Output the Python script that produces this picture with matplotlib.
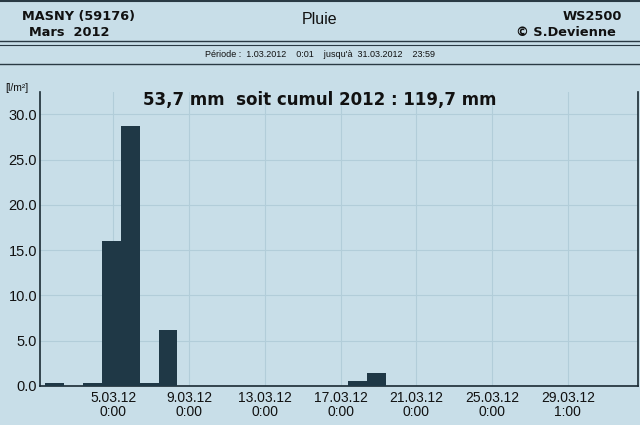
import matplotlib.pyplot as plt
import numpy as np

# pluie journaliere, mars 2012 (jour 1..31) en l/m2
jours = np.arange(1, 32)
pluie = [0.3, 0.0, 0.3, 16.0, 28.7, 0.3, 6.2, 0.0, 0.0, 0.0,
         0.0, 0.0, 0.0, 0.0, 0.0, 0.0, 0.5, 1.4, 0.0, 0.0,
         0.0, 0.0, 0.0, 0.0, 0.0, 0.0, 0.0, 0.0, 0.0, 0.0, 0.0]
tick_jours = [5, 9, 13, 17, 21, 25, 29]
tick_labels = ['5.03.12\n0:00', '9.03.12\n0:00', '13.03.12\n0:00', '17.03.12\n0:00',
               '21.03.12\n0:00', '25.03.12\n0:00', '29.03.12\n1:00']
y_ticks = [0, 5, 10, 15, 20, 25, 30]

fond = '#c8dee8'
barre = '#1f3846'
grille = '#b2cdd9'

fig = plt.figure(figsize=(6.4, 4.25), dpi=100, facecolor=fond)
ax = fig.add_axes([0.0625, 0.092, 0.935, 0.692], facecolor=fond)

ax.bar(jours + 0.4, pluie, width=0.98, align='edge', color=barre, zorder=3)

ax.set_xlim(1.12, 32.73)
ax.set_ylim(0, 32.5)
ax.set_xticks(tick_jours)
ax.set_xticklabels(tick_labels, fontsize=10, family='Liberation Sans', color='#111111',
                   linespacing=1.0)
ax.set_yticks(y_ticks)
ax.set_yticklabels([f'{v:.1f}' for v in y_ticks], fontsize=10.5, family='Liberation Sans',
                   color='#111111')
ax.tick_params(axis='y', length=0, pad=2)
ax.tick_params(axis='x', length=0, pad=4)
ax.grid(True, color=grille, linewidth=0.8, zorder=0)

ax.spines['top'].set_visible(False)
for s in ['left', 'bottom', 'right']:
    ax.spines[s].set_color('#1a2a33')
    ax.spines[s].set_linewidth(1.2)

# titre dans le graphique
fig.text(0.5, 0.765, '53,7 mm  soit cumul 2012 : 119,7 mm', ha='center', va='center',
         fontsize=12, fontweight='bold', family='DejaVu Sans', color='#111111')
fig.text(0.008, 0.782, '[l/m²]', ha='left', va='bottom', fontsize=7.5,
         family='Liberation Sans', color='#111111')

# entete
fig.text(0.034, 0.962, 'MASNY (59176)', ha='left', va='center', fontsize=9.3,
         fontweight='bold', family='DejaVu Sans', color='#111111')
fig.text(0.045, 0.923, 'Mars  2012', ha='left', va='center', fontsize=9.3,
         fontweight='bold', family='DejaVu Sans', color='#111111')
fig.text(0.5, 0.953, 'Pluie', ha='center', va='center', fontsize=11.5,
         family='Liberation Sans', color='#111111')
fig.text(0.972, 0.962, 'WS2500', ha='right', va='center', fontsize=9.3,
         fontweight='bold', family='DejaVu Sans', color='#111111')
fig.text(0.963, 0.923, '© S.Devienne', ha='right', va='center', fontsize=9.3,
         fontweight='bold', family='DejaVu Sans', color='#111111')
fig.text(0.5, 0.871, "Période :  1.03.2012    0:01    jusqu'à  31.03.2012    23:59",
         ha='center', va='center', fontsize=6.5, family='Liberation Sans', color='#111111')

for y, lw in [(0.997, 1.5), (0.903, 1.0), (0.894, 0.8), (0.850, 1.0)]:
    fig.add_artist(plt.Line2D([0, 1], [y, y], color='#2a3a44', linewidth=lw))

fig.savefig('out.png', dpi=100, facecolor=fond)
